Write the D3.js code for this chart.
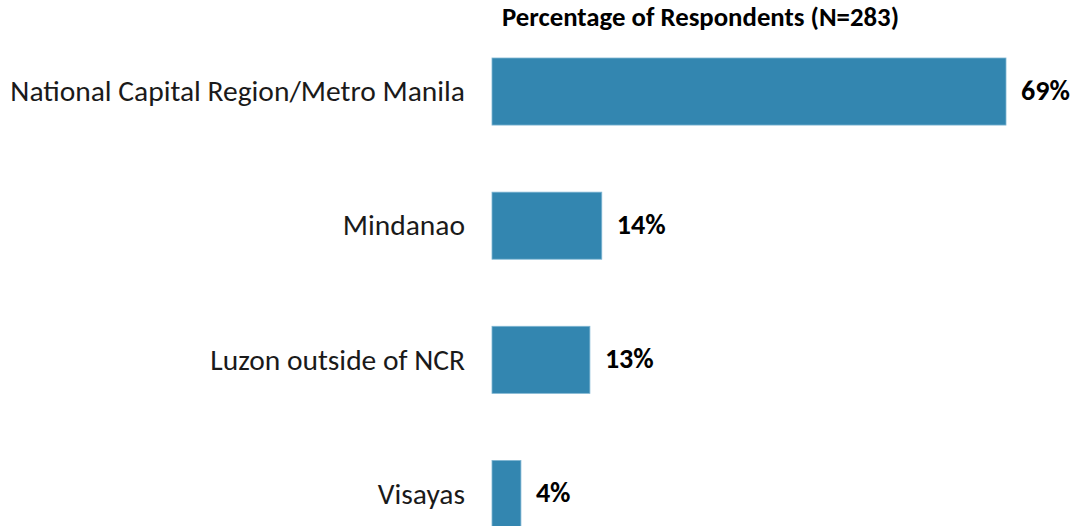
<!DOCTYPE html>
<html>
<head>
<meta charset="utf-8">
<script src="https://cdn.jsdelivr.net/npm/d3@7"></script>
<style>
  body { margin: 0; background: #fff; }
  text { font-family: Carlito, Lato, "Open Sans", sans-serif; fill: #000; }
</style>
</head>
<body>
<script>
var regions = ["National Capital Region/Metro Manila", "Mindanao", "Luzon outside of NCR", "Visayas"];
var values = [69.3, 14.8, 13.2, 3.9];
var valueLabels = ["69%", "14%", "13%", "4%"];
var chartTitle = "Percentage of Respondents (N=283)";

var w = 1076, h = 526;
var svg = d3.select("body").append("svg")
  .attr("width", w)
  .attr("height", h);

var xScale = d3.scaleLinear()
  .domain([0, 69.3])
  .range([492, 1006]);

var yScale = d3.scaleBand()
  .domain(regions)
  .range([58, 527.5])
  .paddingInner(0.5)
  .paddingOuter(0);

svg.append("text")
  .attr("x", 502)
  .attr("y", 26)
  .style("font-size", "26.8px")
  .style("font-weight", "bold")
  .text(chartTitle);

var data = regions.map(function(r, i) { return {name: r, value: values[i], label: valueLabels[i]}; });

svg.selectAll("rect.bar")
  .data(data)
  .enter().append("rect")
    .attr("class", "bar")
    .attr("x", xScale(0))
    .attr("y", function(d) { return yScale(d.name); })
    .attr("width", function(d) { return xScale(d.value) - xScale(0); })
    .attr("height", yScale.bandwidth())
    .style("fill", "#3386b0")
    .style("stroke", "#7fb6d3")
    .style("stroke-width", 0.8);

svg.selectAll("text.cat")
  .data(data)
  .enter().append("text")
    .attr("class", "cat")
    .attr("x", 465)
    .attr("y", function(d) { return yScale(d.name) + yScale.bandwidth() / 2; })
    .attr("dy", "0.33em")
    .attr("text-anchor", "end")
    .style("font-size", "29.5px")
    .style("fill", "#1a1a1a")
    .text(function(d) { return d.name; });

svg.selectAll("text.val")
  .data(data)
  .enter().append("text")
    .attr("class", "val")
    .attr("x", function(d) { return xScale(d.value) + 15; })
    .attr("y", function(d) { return yScale(d.name) + yScale.bandwidth() / 2; })
    .attr("dy", "0.3em")
    .style("font-size", "28px")
    .style("font-weight", "bold")
    .text(function(d) { return d.label; });
</script>
</body>
</html>
